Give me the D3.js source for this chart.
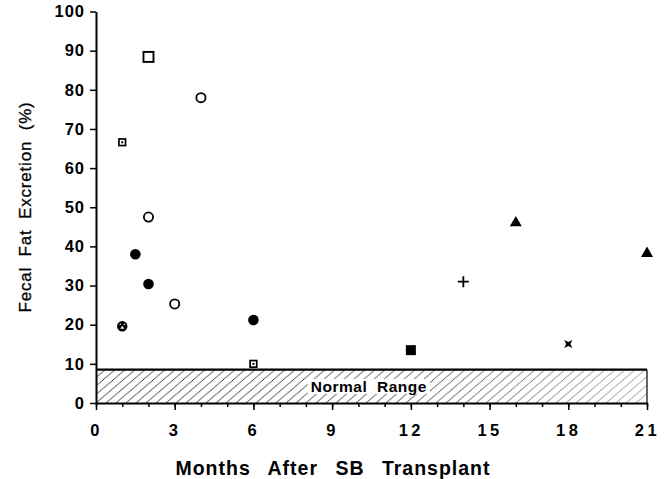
<!DOCTYPE html>
<html>
<head>
<meta charset="utf-8">
<script src="https://cdn.jsdelivr.net/npm/d3@7"></script>
<style>
  html, body { margin: 0; padding: 0; background: #fff; }
  svg { display: block; font-family: "Liberation Sans", Arial, sans-serif; }
</style>
</head>
<body>
<div id="chart"></div>
<script>
(function () {

    // values
    const xTicks = [0, 3, 6, 9, 12, 15, 18, 21];
    const yTicks = [0, 10, 20, 30, 40, 50, 60, 70, 80, 90, 100];
    const normalLimit = 8.5;

    const openCircleMonths = [4, 2, 3];
    const openCircleFat = [78, 47.5, 25.3];
    const filledCircleMonths = [1.5, 2, 6];
    const filledCircleFat = [38, 30.4, 21.2];
    const openSquareMonths = [2];
    const openSquareFat = [88.4];
    const dotSquareMonths = [1, 6];
    const dotSquareFat = [66.6, 10];
    const filledSquareMonths = [12];
    const filledSquareFat = [13.5];
    const plusMonths = [14];
    const plusFat = [31];
    const triangleMonths = [16, 21];
    const triangleFat = [46, 38.2];
    const bowtieMonths = [18];
    const bowtieFat = [15.1];
    const faceMonths = [1];
    const faceFat = [19.6];

    const width = 668, height = 479;
    const margin = { top: 11.5, right: 21, bottom: 76, left: 96 };

    const svg = d3.select("#chart").append("svg")
        .attr("width", width).attr("height", height);

    const xScale = d3.scaleLinear().domain([0, 21]).range([margin.left, width - margin.right]);
    const yScale = d3.scaleLinear().domain([0, 100]).range([height - margin.bottom, margin.top]);

    // hatch pattern + fade to the right
    const defs = svg.append("defs");
    const pat = defs.append("pattern")
        .attr("id", "hatch")
        .attr("patternUnits", "userSpaceOnUse")
        .attr("patternTransform", "skewX(-10)")
        .attr("width", 10).attr("height", 10);
    pat.append("path")
        .attr("d", "M-2,12 L12,-2 M-2,2 L2,-2 M8,12 L12,8")
        .attr("stroke", "#111").attr("stroke-width", 0.9);

    const grad = defs.append("linearGradient").attr("id", "fade");
    grad.append("stop").attr("offset", "0%").attr("stop-color", "#fff").attr("stop-opacity", 0);
    grad.append("stop").attr("offset", "55%").attr("stop-color", "#fff").attr("stop-opacity", 0.05);
    grad.append("stop").attr("offset", "100%").attr("stop-color", "#fff").attr("stop-opacity", 0.5);

    const band = svg.append("g");
    band.append("rect")
        .attr("x", xScale(0)).attr("y", yScale(normalLimit))
        .attr("width", xScale(21) - xScale(0))
        .attr("height", yScale(0) - yScale(normalLimit))
        .attr("fill", "url(#hatch)");
    band.append("rect")
        .attr("x", xScale(0)).attr("y", yScale(normalLimit))
        .attr("width", xScale(21) - xScale(0))
        .attr("height", yScale(0) - yScale(normalLimit))
        .attr("fill", "url(#fade)");

    // label with white backing
    const lbl = band.append("text")
        .attr("x", xScale(10.4)).attr("y", yScale(normalLimit / 2) + 5.5)
        .attr("text-anchor", "middle")
        .attr("font-size", 15.5).attr("font-weight", "bold")
        .attr("letter-spacing", 0.5).attr("word-spacing", 5)
        .attr("fill", "#000")
        .text("Normal Range");
    const bb = lbl.node().getBBox();
    band.insert("rect", "text")
        .attr("x", bb.x - 3).attr("y", bb.y + 1)
        .attr("width", bb.width + 6).attr("height", bb.height - 2)
        .attr("fill", "#fff");

    band.append("line")
        .attr("x1", xScale(0)).attr("x2", xScale(21))
        .attr("y1", yScale(normalLimit)).attr("y2", yScale(normalLimit))
        .attr("stroke", "#000").attr("stroke-width", 2.2);
    band.append("line")
        .attr("x1", xScale(21)).attr("x2", xScale(21))
        .attr("y1", yScale(normalLimit)).attr("y2", yScale(0))
        .attr("stroke", "#000").attr("stroke-width", 1.2);

    // axes
    const xMinor = svg.append("g")
        .attr("transform", `translate(0,${yScale(0)})`)
        .call(d3.axisBottom(xScale).ticks(21).tickSize(4).tickFormat(""));
    xMinor.select(".domain").remove();

    const xAxis = svg.append("g")
        .attr("transform", `translate(0,${yScale(0)})`)
        .call(d3.axisBottom(xScale).tickValues(xTicks).tickSize(7).tickSizeOuter(0).tickPadding(14));

    const yAxis = svg.append("g")
        .attr("transform", `translate(${xScale(0)},0)`)
        .call(d3.axisLeft(yScale).tickValues(yTicks).tickSize(6).tickSizeOuter(0).tickPadding(5));

    [xAxis, yAxis, xMinor].forEach(g => {
        g.select(".domain").attr("stroke-width", 2).attr("stroke", "#000");
        g.selectAll(".tick line").attr("stroke-width", 1.5).attr("stroke", "#000");
        g.selectAll(".tick text")
            .attr("font-size", 16.5).attr("font-weight", "bold")
            .attr("letter-spacing", 1)
            .attr("font-family", "Liberation Sans, Arial, sans-serif")
            .attr("fill", "#000");
    });
    xAxis.selectAll(".tick text").attr("letter-spacing", 3.5);

    svg.append("text")
        .attr("x", 333).attr("y", 475)
        .attr("text-anchor", "middle")
        .attr("font-size", 19.5).attr("font-weight", "bold")
        .attr("letter-spacing", 1).attr("word-spacing", 11)
        .attr("fill", "#000")
        .text("Months After SB Transplant");

    svg.append("text")
        .attr("transform", `translate(31,${207}) rotate(-90)`)
        .attr("text-anchor", "middle")
        .attr("font-size", 17)
        .attr("letter-spacing", 0.8).attr("word-spacing", 5)
        .attr("fill", "#000")
        .attr("stroke", "#000").attr("stroke-width", 0.3)
        .text("Fecal Fat Excretion (%)");

    // markers
    const pts = (xs, ys) => xs.map((x, i) => ({ x: xScale(x), y: yScale(ys[i]) }));
    const marks = svg.append("g");

    marks.selectAll(".oc").data(pts(openCircleMonths, openCircleFat)).enter()
        .append("circle").attr("cx", d => d.x).attr("cy", d => d.y).attr("r", 4.6)
        .attr("fill", "#fff").attr("stroke", "#000").attr("stroke-width", 1.8);

    marks.selectAll(".fc").data(pts(filledCircleMonths, filledCircleFat)).enter()
        .append("circle").attr("cx", d => d.x).attr("cy", d => d.y).attr("r", 5.3)
        .attr("fill", "#000");

    marks.selectAll(".os").data(pts(openSquareMonths, openSquareFat)).enter()
        .append("rect").attr("x", d => d.x - 5).attr("y", d => d.y - 5)
        .attr("width", 10).attr("height", 10)
        .attr("fill", "#fff").attr("stroke", "#000").attr("stroke-width", 1.9);

    const ds = marks.selectAll(".ds").data(pts(dotSquareMonths, dotSquareFat)).enter().append("g");
    ds.append("rect").attr("x", d => d.x - 3.3).attr("y", d => d.y - 3.3)
        .attr("width", 6.6).attr("height", 6.6)
        .attr("fill", "#fff").attr("stroke", "#000").attr("stroke-width", 1.7);
    ds.append("rect").attr("x", d => d.x - 1).attr("y", d => d.y - 1)
        .attr("width", 2).attr("height", 2).attr("fill", "#000");

    marks.selectAll(".fs").data(pts(filledSquareMonths, filledSquareFat)).enter()
        .append("rect").attr("x", d => d.x - 5).attr("y", d => d.y - 5)
        .attr("width", 10).attr("height", 10).attr("fill", "#000");

    marks.selectAll(".pl").data(pts(plusMonths, plusFat)).enter()
        .append("path")
        .attr("d", d => `M${d.x - 5.5},${d.y}H${d.x + 5.5}M${d.x},${d.y - 5.5}V${d.y + 5.5}`)
        .attr("stroke", "#000").attr("stroke-width", 1.8);

    marks.selectAll(".tr").data(pts(triangleMonths, triangleFat)).enter()
        .append("path")
        .attr("d", d3.symbol(d3.symbolTriangle, 62))
        .attr("transform", d => `translate(${d.x},${d.y})`)
        .attr("fill", "#000");

    marks.selectAll(".bt").data(pts(bowtieMonths, bowtieFat)).enter()
        .append("path")
        .attr("d", d => `M${d.x - 4},${d.y - 4}L${d.x},${d.y - 2}L${d.x + 4},${d.y - 4}` +
            `L${d.x + 2.2},${d.y}L${d.x + 4},${d.y + 4}L${d.x},${d.y + 2}L${d.x - 4},${d.y + 4}L${d.x - 2.2},${d.y}Z`)
        .attr("fill", "#000");

    const face = marks.selectAll(".fa").data(pts(faceMonths, faceFat)).enter().append("g");
    face.append("circle").attr("cx", d => d.x).attr("cy", d => d.y).attr("r", 5.2).attr("fill", "#000");
    face.append("path")
        .attr("d", d => `M${d.x - 2},${d.y + 2.5}L${d.x},${d.y - 0.5}L${d.x + 2},${d.y + 2.5}Z`)
        .attr("fill", "#fff");
    face.append("circle").attr("cx", d => d.x - 2).attr("cy", d => d.y - 2).attr("r", 0.8).attr("fill", "#fff");
    face.append("circle").attr("cx", d => d.x + 2).attr("cy", d => d.y - 2).attr("r", 0.8).attr("fill", "#fff");

})();
</script>
</body>
</html>
